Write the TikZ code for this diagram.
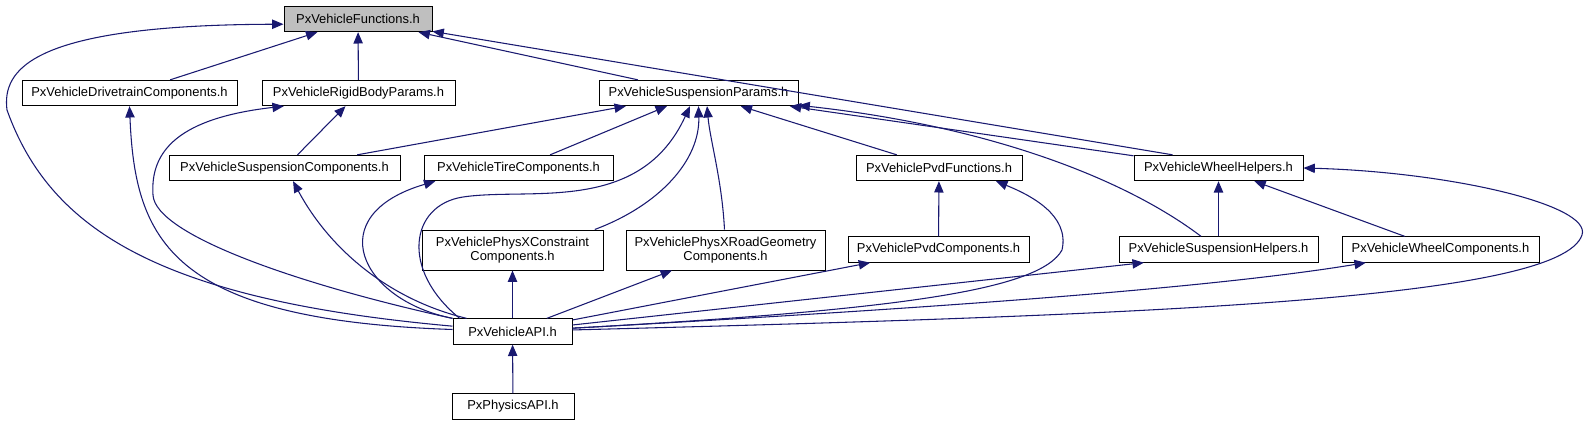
\documentclass[tikz,border=0pt]{standalone}
\usepackage{fontspec}
\setmainfont{Liberation Sans}
\usetikzlibrary{arrows.meta,positioning}
\definecolor{edgeblue}{HTML}{191970}
\tikzset{
    filebox/.style={rectangle,draw=black,line width=0.75pt,fill=white,align=center,minimum height=19pt,inner sep=1pt,font=\fontsize{9.7}{10.8}\selectfont},
    filetwo/.style={filebox,minimum height=30pt},
    filetop/.style={filebox,fill=black!25},
    boxw/.style={minimum width=#1*0.75pt},
    incline/.style={-{Triangle[length=8.5pt,width=7pt]},draw=edgeblue,line width=0.8pt}
}

\begin{document}
\begin{tikzpicture}[x=0.75pt,y=-0.75pt]
        \useasboundingbox (0,0) rectangle (1587,425);
        \node[filetop,boxw=148] (fun) at (358,19) {PxVehicleFunctions.h};
        \node[filebox,boxw=215] (drive) at (129.5,93) {PxVehicleDrivetrainComponents.h};
        \node[filebox,boxw=193] (rigid) at (358.5,93) {PxVehicleRigidBodyParams.h};
        \node[filebox,boxw=199] (sparams) at (698.5,93) {PxVehicleSuspensionParams.h};
        \node[filebox,boxw=231] (scomp) at (284.5,168) {PxVehicleSuspensionComponents.h};
        \node[filebox,boxw=189] (tire) at (518.5,168) {PxVehicleTireComponents.h};
        \node[filebox,boxw=166] (pvdfun) at (939,168) {PxVehiclePvdFunctions.h};
        \node[filebox,boxw=169] (whelp) at (1218.5,168) {PxVehicleWheelHelpers.h};
        \node[filetwo,boxw=181] (constr) at (512.5,250) {PxVehiclePhysXConstraint\\Components.h};
        \node[filetwo,boxw=199] (road) at (725.5,250) {PxVehiclePhysXRoadGeometry\\Components.h};
        \node[filebox,boxw=181] (pvdcomp) at (938.5,249.5) {PxVehiclePvdComponents.h};
        \node[filebox,boxw=199] (shelp) at (1218.5,249.5) {PxVehicleSuspensionHelpers.h};
        \node[filebox,boxw=197] (wcomp) at (1440.5,249.5) {PxVehicleWheelComponents.h};
        \node[filebox,boxw=119] (api) at (512.5,331.5) {PxVehicleAPI.h};
        \node[filebox,boxw=122] (physics) at (513,406.5) {PxPhysicsAPI.h};
        \coordinate (lftbend) at (7,110);
        \coordinate (rigbend) at (153,195);
        \coordinate (sbend) at (463,197);
        \coordinate (pvdbend) at (1062,250);
        \coordinate (whbend) at (1582,235);
        % into PxVehicleFunctions.h
        \draw[incline] (drive) -- (fun);
        \draw[incline] (rigid) -- (fun);
        \draw[incline] (sparams) -- (fun);
        \draw[incline] (whelp.164) -- (fun);
        \draw[incline] (api) .. controls (160,300) and (50,230) .. (lftbend) .. controls (2,70) and (30,25) .. (fun.-176);
        % second row
        \draw[incline] (api) .. controls (170,320) and (135,240) .. (drive.south);
        \draw[incline] (api) .. controls (300,285) and (155,235) .. (rigbend) .. controls (150,150) and (180,118) .. (rigid.-170);
        \draw[incline] (scomp) -- (rigid);
        \draw[incline] (scomp) -- (sparams);
        \draw[incline] (tire) -- (sparams);
        \draw[incline] (pvdfun) -- (sparams);
        \draw[incline] (whelp) -- (sparams);
        \draw[incline] (shelp.143) .. controls (1120,175) and (980,125) .. (sparams.-7);
        \draw[incline] (constr.14) .. controls (660,205) and (700,160) .. (sparams.south);
        \draw[incline] (road) .. controls (722,180) and (710,140) .. (sparams.-57);
        \draw[incline] (api.166) .. controls (400,270) and (410,205) .. (sbend) .. controls (530,187) and (640,215) .. (sparams.-123);
        % third row
        \draw[incline] (api.164) .. controls (390,300) and (330,250) .. (scomp.-57);
        \draw[incline] (api.north west) .. controls (360,300) and (320,215) .. (tire.-171);
        \draw[incline] (pvdcomp) -- (pvdfun);
        \draw[incline] (api) .. controls (900,310) and (1040,290) .. (pvdbend) .. controls (1070,215) and (1030,195) .. (pvdfun.-13);
        \draw[incline] (shelp) -- (whelp);
        \draw[incline] (wcomp) -- (whelp);
        \draw[incline] (api) .. controls (1150,315) and (1560,300) .. (whbend) .. controls (1592,205) and (1450,172) .. (whelp.east);
        % fourth row
        \draw[incline] (api) -- (constr);
        \draw[incline] (api) -- (road);
        \draw[incline] (api) -- (pvdcomp);
        \draw[incline] (api) -- (shelp.-170);
        \draw[incline] (api) .. controls (900,310) and (1200,290) .. (wcomp.-170);
        \draw[incline] (physics) -- (api);
    \end{tikzpicture}
\end{document}
